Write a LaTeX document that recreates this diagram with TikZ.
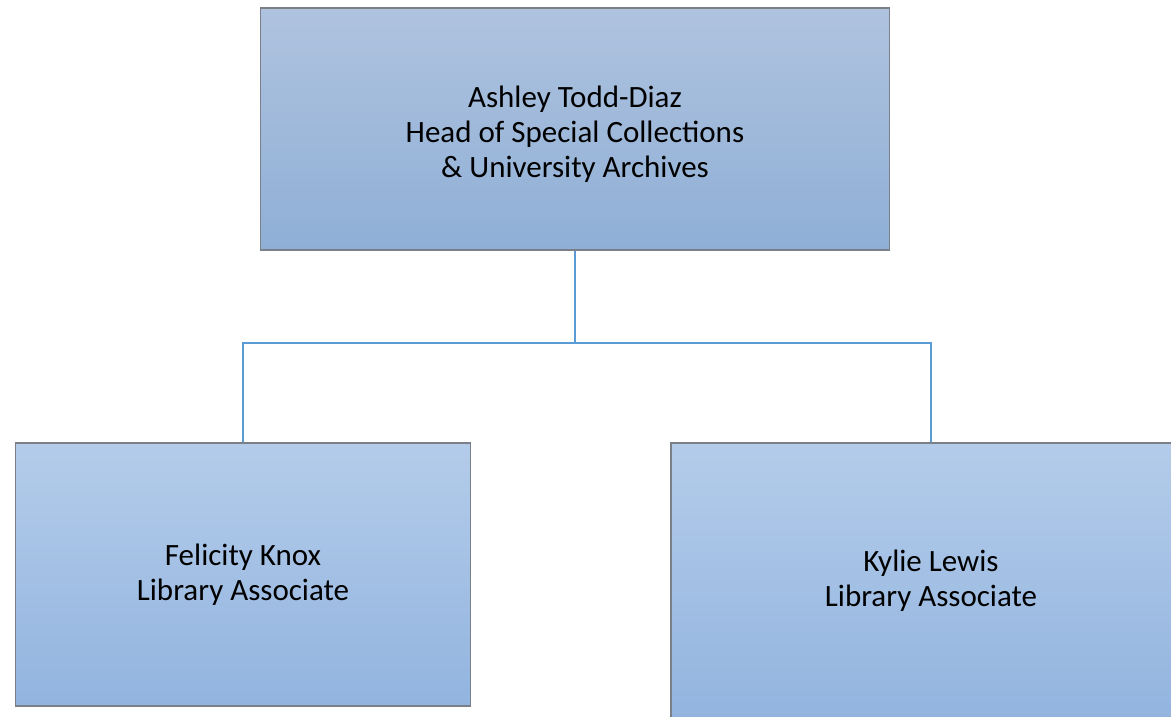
\documentclass[tikz,border=0pt]{standalone}
\usepackage{fontspec}
\setmainfont{Carlito}
\definecolor{topA}{HTML}{AFC3DF}
\definecolor{topB}{HTML}{8FAFD6}
\definecolor{lowA}{HTML}{B4CCEA}
\definecolor{lowB}{HTML}{92B4DF}
\definecolor{linkc}{HTML}{5B9BD5}
\definecolor{edge}{HTML}{7A7F88}
\begin{document}
\begin{tikzpicture}[x=1pt,y=-1pt,
  box/.style={draw=edge,line width=1.3pt,inner sep=0pt,align=center,font=\fontsize{31}{35}\selectfont},
  topbox/.style={box,top color=topA,bottom color=topB},
  lowbox/.style={box,top color=lowA,bottom color=lowB},
  link/.style={draw=linkc,line width=2.2pt}]
\useasboundingbox (0,0) rectangle (1171,716);
\begin{scope}
\clip (0,0) rectangle (1171,716);
\node[topbox,minimum width=629pt,minimum height=242pt] (head) at (575,129) {\\[-4pt]Ashley Todd-Diaz\\Head of Special Collections\\\& University Archives};
\node[lowbox,minimum width=455pt,minimum height=263pt] (fk) at (243,574.5) {Felicity Knox\\Library Associate};
\node[lowbox,minimum width=520pt,minimum height=276pt] (kl) at (931,581) {Kylie Lewis\\Library Associate};
\end{scope}
\coordinate (mid) at (575,343);
\draw[link] (head.south) -- (mid);
\draw[link] (fk.north) |- (mid) -| (kl.north);
\end{tikzpicture}
\end{document}
